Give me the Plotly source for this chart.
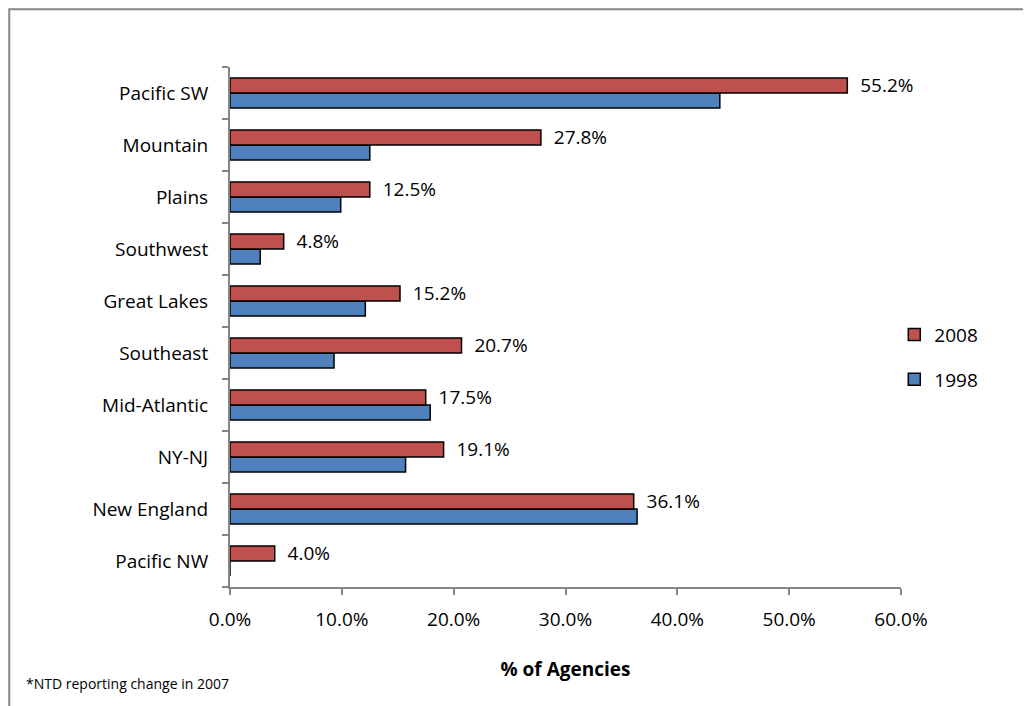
import plotly.graph_objects as go

# categories listed bottom to top
regions = ["Pacific NW", "New England", "NY-NJ", "Mid-Atlantic", "Southeast",
           "Great Lakes", "Southwest", "Plains", "Mountain", "Pacific SW"]
pct_2008 = [4.0, 36.1, 19.1, 17.5, 20.7, 15.2, 4.8, 12.5, 27.8, 55.2]
pct_1998 = [0.0, 36.4, 15.7, 17.9, 9.3, 12.1, 2.7, 9.9, 12.5, 43.8]
x_ticks = [0, 10, 20, 30, 40, 50, 60]

FONT = "Open Sans, Lato, sans-serif"
GREY = "#868686"

fig = go.Figure()
fig.add_trace(go.Bar(
    y=regions, x=pct_1998, name="1998", orientation="h",
    legendgroup="a", legendrank=2,
    marker=dict(color="#4F81BD", line=dict(color="black", width=1.5)),
))
fig.add_trace(go.Bar(
    y=regions, x=pct_2008, name="2008", orientation="h",
    legendgroup="b", legendrank=1,
    marker=dict(color="#C0504D", line=dict(color="black", width=1.5)),
    text=[f"\u00a0\u00a0{v:.1f}%" for v in pct_2008], textposition="outside",
    textfont=dict(size=19, color="black"), cliponaxis=False, constraintext="none",
))

# page body adds an 8px margin, so the figure is 8px smaller
fig.update_layout(
    width=1023, height=698,
    paper_bgcolor="white", plot_bgcolor="white",
    font=dict(family=FONT, size=19, color="black"),
    barmode="group", bargap=0.42, bargroupgap=0,
    margin=dict(l=222, r=130, t=59, b=119),
    showlegend=True,
    legend=dict(traceorder="grouped", x=0.99, y=0.442, xanchor="left", yanchor="middle",
                font=dict(size=19), itemwidth=30, tracegroupgap=17),
    xaxis=dict(range=[0, 60], tickvals=x_ticks,
               ticktext=[f"{v:.1f}%" for v in x_ticks],
               showgrid=False, zeroline=False,
               showline=True, linecolor=GREY, linewidth=2,
               ticks="outside", ticklen=6, tickcolor=GREY, tickwidth=2,
               ticklabelstandoff=8,
               title=dict(text="<b>% of Agencies</b>", font=dict(size=19), standoff=32)),
    yaxis=dict(showgrid=False, zeroline=False,
               showline=True, linecolor=GREY, linewidth=2,
               ticks="outside", ticklen=6, tickcolor=GREY, tickwidth=2,
               tickson="boundaries", ticklabelstandoff=16),
    shapes=[dict(type="rect", xref="paper", yref="paper",
                 x0=-0.329, x1=1.3, y0=-0.25, y1=1.111,
                 line=dict(color=GREY, width=2))],
    annotations=[dict(text="*NTD reporting change in 2007", xref="paper", yref="paper",
                      x=-0.307, y=-0.185, xanchor="left", yanchor="middle",
                      showarrow=False, font=dict(size=14))],
)

fig.write_html("out.html")
